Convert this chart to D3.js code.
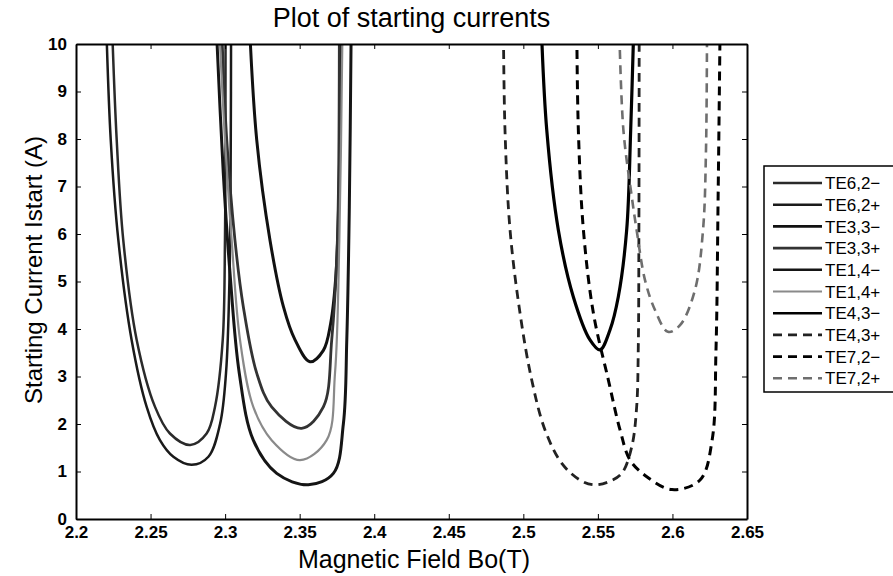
<!DOCTYPE html>
<html>
<head>
<meta charset="utf-8">
<script src="https://cdn.jsdelivr.net/npm/d3@7"></script>
<style>
  body { margin: 0; background: #fff; }
  svg { font-family: "Liberation Sans", Arial, sans-serif; }
  .tick-label { font-weight: bold; font-size: 17px; }
</style>
</head>
<body>
<div id="chart"></div>
<script>
// starting current curves, [B (T), Istart (A)]
var te62m = [[2.2246,10],[2.2273,7.98],[2.2317,5.87],[2.2407,3.77],[2.2530,2.36],[2.2630,1.80],[2.2766,1.56],[2.2876,1.80],[2.2932,2.36],[2.2984,3.77],[2.2999,5.87],[2.3002,8],[2.3003,10.5]];
var te62p = [[2.2202,10.5],[2.2233,7.98],[2.2284,5.87],[2.2373,3.77],[2.2474,2.36],[2.2563,1.66],[2.2653,1.31],[2.2776,1.14],[2.2888,1.31],[2.2966,2.0],[2.3006,3.07],[2.3030,5.17],[2.3038,8],[2.3040,10.5]];
var te33m = [[2.3162,10.5],[2.3212,7.98],[2.3301,5.87],[2.3391,4.47],[2.3469,3.77],[2.3569,3.31],[2.3659,3.55],[2.3708,4.12],[2.3744,5.17],[2.3766,7.27],[2.3775,10.5]];
var te33p = [[2.2975,10.5],[2.3011,7.98],[2.3066,5.87],[2.3122,4.47],[2.3212,3.07],[2.3312,2.36],[2.3513,1.91],[2.3659,2.36],[2.3715,3.77],[2.3753,5.87],[2.3766,10.5]];
var te14m = [[2.2939,10.5],[2.2988,7.27],[2.3033,5.17],[2.3095,3.07],[2.3189,1.66],[2.3346,0.96],[2.3558,0.72],[2.3726,0.96],[2.3793,2.0],[2.3816,3.77],[2.3833,6.57],[2.3846,10.5]];
var te14p = [[2.2958,10.5],[2.2999,7.98],[2.3044,5.87],[2.3100,3.77],[2.3189,2.36],[2.3312,1.66],[2.3502,1.24],[2.3681,1.66],[2.3737,3.07],[2.3766,5.87],[2.3788,10.5]];
var te43m = [[2.5119,10.5],[2.5157,8.19],[2.5235,6.08],[2.5335,4.68],[2.5447,3.77],[2.5514,3.56],[2.5581,3.98],[2.5637,4.68],[2.5693,6.08],[2.5720,8.19],[2.5742,10.5]];
var te43p = [[2.4866,10.5],[2.4877,8.19],[2.4911,6.08],[2.4978,4.33],[2.5056,2.93],[2.5146,1.87],[2.5258,1.17],[2.5380,0.82],[2.5470,0.72],[2.5570,0.78],[2.5660,0.96],[2.5727,1.52],[2.5760,2.36],[2.5771,3.63],[2.5775,6],[2.5777,10.5]];
var te72m = [[2.5358,10.5],[2.5369,8.19],[2.5403,6.08],[2.5470,4.33],[2.5570,2.93],[2.5649,1.87],[2.5716,1.24],[2.5828,0.89],[2.5997,0.62],[2.6185,0.82],[2.6266,1.66],[2.6292,3.56],[2.6306,6.7],[2.6320,10.5]];
var te72p = [[2.5642,10.5],[2.5671,8.19],[2.5727,6.79],[2.5760,6.08],[2.5816,5.03],[2.5883,4.40],[2.5970,3.94],[2.6051,4.08],[2.6151,4.82],[2.6205,6.08],[2.6225,7.77],[2.6232,10.5]];

var seriesNames = ["TE6,2\u2212","TE6,2+","TE3,3\u2212","TE3,3+","TE1,4\u2212","TE1,4+","TE4,3\u2212","TE4,3+","TE7,2\u2212","TE7,2+"];
var seriesData = [te62m, te62p, te33m, te33p, te14m, te14p, te43m, te43p, te72m, te72p];
var xTicks = [2.2, 2.25, 2.3, 2.35, 2.4, 2.45, 2.5, 2.55, 2.6, 2.65];
var yTicks = [0, 1, 2, 3, 4, 5, 6, 7, 8, 9, 10];

var colors = ["#2a2a2a","#1a1a1a","#111","#333","#151515","#8a8a8a","#000","#222","#000","#6e6e6e"];
var dashed = [false,false,false,false,false,false,false,true,true,true];
var widths = [2.5,2.5,3,2.8,3,2.2,3.2,2.8,3,2.6];

var W = 893, H = 576;
var margin = {top: 44, right: 146, bottom: 57, left: 76};
var width = W - margin.left - margin.right,
    height = H - margin.top - margin.bottom;

var svg = d3.select("#chart").append("svg")
    .attr("width", W)
    .attr("height", H);

var g = svg.append("g")
    .attr("transform", "translate(" + margin.left + "," + margin.top + ")");

var xScale = d3.scaleLinear().domain([2.2, 2.65]).range([0, width]);
var yScale = d3.scaleLinear().domain([0, 10]).range([height, 0]);

g.append("clipPath").attr("id", "plot-clip")
    .append("rect").attr("width", width).attr("height", height);

// curves
var line = d3.line()
    .x(function(d){ return xScale(d[0]); })
    .y(function(d){ return yScale(d[1]); })
    .curve(d3.curveCatmullRom.alpha(0.5));

g.append("g").attr("clip-path", "url(#plot-clip)")
    .selectAll("path")
    .data(seriesData)
    .enter().append("path")
    .attr("d", line)
    .attr("fill", "none")
    .attr("stroke", function(d, i){ return colors[i]; })
    .attr("stroke-width", function(d, i){ return widths[i]; })
    .attr("stroke-dasharray", function(d, i){ return dashed[i] ? "9,6" : null; });

// axes, ticks inside on all four sides (matlab box)
var tickLen = 5;
g.append("g")
    .attr("transform", "translate(0," + height + ")")
    .call(d3.axisBottom(xScale).tickValues(xTicks).tickSizeInner(-tickLen).tickSizeOuter(0).tickPadding(7)
        .tickFormat(function(d){ return d3.format("")(+d.toFixed(2)); }))
    .call(function(a){
        a.select(".domain").attr("stroke", "#000").attr("stroke-width", 2);
        a.selectAll("text").attr("class", "tick-label").attr("fill", "#000").attr("font-family", null).attr("font-size", null);
    });

g.append("g")
    .call(d3.axisTop(xScale).tickValues(xTicks).tickSizeInner(-tickLen).tickSizeOuter(0).tickFormat(""))
    .call(function(a){ a.select(".domain").attr("stroke", "#000").attr("stroke-width", 2); });

g.append("g")
    .call(d3.axisLeft(yScale).tickValues(yTicks).tickSizeInner(-tickLen).tickSizeOuter(0).tickPadding(9))
    .call(function(a){
        a.select(".domain").attr("stroke", "#000").attr("stroke-width", 2);
        a.selectAll("text").attr("class", "tick-label").attr("fill", "#000").attr("font-family", null).attr("font-size", null);
    });

g.append("g")
    .attr("transform", "translate(" + width + ",0)")
    .call(d3.axisRight(yScale).tickValues(yTicks).tickSizeInner(-tickLen).tickSizeOuter(0).tickFormat(""))
    .call(function(a){ a.select(".domain").attr("stroke", "#000").attr("stroke-width", 2); });

// titles
svg.append("text")
    .attr("x", margin.left + width / 2)
    .attr("y", 27)
    .attr("text-anchor", "middle")
    .attr("font-size", 27)
    .text("Plot of starting currents");

svg.append("text")
    .attr("x", 414)
    .attr("y", 568)
    .attr("text-anchor", "middle")
    .attr("font-size", 25)
    .text("Magnetic Field Bo(T)");

svg.append("text")
    .attr("transform", "translate(42,270) rotate(-90)")
    .attr("text-anchor", "middle")
    .attr("font-size", 24)
    .text("Starting Current Istart (A)");

// legend
var legX = 764, legY = 166, rowH = 21.7;
var legend = svg.append("g").attr("transform", "translate(" + legX + "," + legY + ")");

legend.append("rect")
    .attr("x", 0).attr("y", 0)
    .attr("width", 140).attr("height", 226)
    .attr("fill", "#fff")
    .attr("stroke", "#000")
    .attr("stroke-width", 1.5);

var rows = legend.selectAll(".leg-row")
    .data(seriesNames)
    .enter().append("g")
    .attr("class", "leg-row")
    .attr("transform", function(d, i){ return "translate(0," + (17 + i * rowH) + ")"; });

rows.append("line")
    .attr("x1", 9).attr("x2", 58)
    .attr("y1", 0).attr("y2", 0)
    .attr("stroke", function(d, i){ return colors[i]; })
    .attr("stroke-width", function(d, i){ return Math.min(widths[i], 2.6); })
    .attr("stroke-dasharray", function(d, i){ return dashed[i] ? "9,6" : null; });

rows.append("text")
    .attr("x", 61)
    .attr("dy", "0.36em")
    .attr("font-size", 17)
    .text(function(d){ return d; });
</script>
</body>
</html>
